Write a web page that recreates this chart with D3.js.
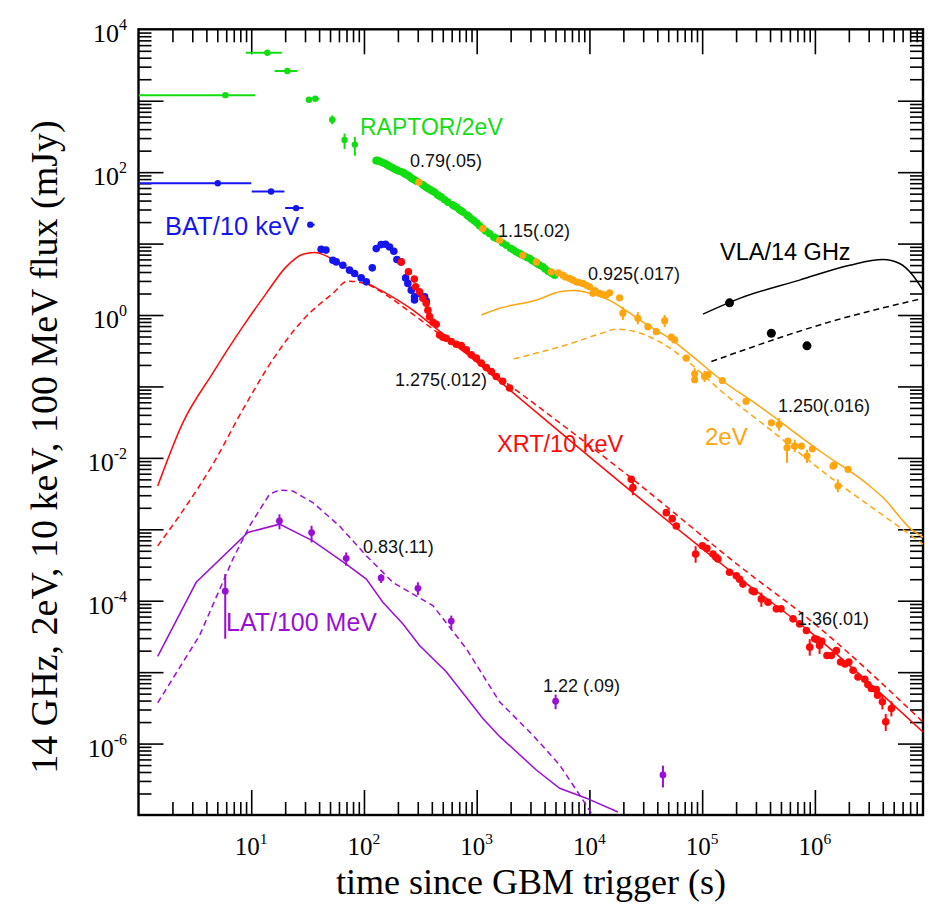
<!DOCTYPE html>
<html>
<head>
<meta charset="utf-8">
<script src="https://cdn.jsdelivr.net/npm/d3@7"></script>
<style>
  body { margin: 0; background: #fff; }
</style>
</head>
<body>
<script>
// ---- data: [time (s), flux (mJy), ...] ----

// RAPTOR early points with horizontal error bars: [t, v, tlo, thi, vlo, vhi]
const raptorEarly = [
  [5.9, 1197, 1, 10.85, null, null],
  [13.9, 4700, 8.95, 18.7, null, null],
  [20.9, 2612, 16.1, 25.6, null, null],
  [32.5, 1030, 30.5, 34.5, null, null],
  [37, 1064, 35, 40, null, null],
  [52.3, 542, 49, 56, 470, 620],
  [67.3, 282, 66, 68.5, 211, 349],
  [83, 243, 82, 84, 170, 314]
];
// RAPTOR dense light curve
const raptor = [
  [128, 145], [131, 146], [133, 145], [137, 142], [140, 140], [146, 136], [152, 133],
  [156, 130], [160, 127], [164, 124], [168, 121], [175, 117], [181, 114], [188, 110],
  [194, 108], [200, 105], [210, 102], [221, 99.7], [228, 96], [235, 93], [245, 90],
  [254, 86.8], [262, 83], [270, 80], [280, 78], [290, 75], [330, 67], [343, 64],
  [357, 61.5], [370, 59], [385, 57], [400, 55], [423, 52.5], [450, 48], [470, 46],
  [485, 44.7], [520, 41], [556, 38], [610, 35], [630, 33.5], [659, 32.4], [700, 30],
  [725, 28.8], [755, 27.6], [820, 25], [850, 24], [896, 22.3], [950, 20.8], [1005, 19.4],
  [1060, 17.8], [1130, 16.4], [1200, 15], [1300, 13.8], [1420, 12.3], [1500, 11.8],
  [1700, 10.2], [1832, 9.47], [2000, 8.6], [2120, 8.1], [2245, 7.64], [2380, 7.3],
  [2500, 7], [2650, 6.7], [2800, 6.4], [2946, 6.18], [3100, 5.8], [3300, 5.5],
  [3450, 5.2], [3600, 5.0], [3866, 4.72], [4050, 4.4], [4300, 4.1], [4600, 3.85], [4911, 3.61]
];
// optical 2eV points: [t, v, vlo, vhi]
const optical = [
  [307, 72.3], [1135, 16.2], [1596, 11.1], [2570, 6.87], [3381, 5.54], [4590, 4.02],
  [5300, 3.9], [5820, 3.61], [6100, 3.4], [6670, 3.25], [7100, 3.1], [7650, 2.91],
  [8100, 2.85], [8750, 2.77], [9400, 2.6], [10040, 2.48], [10740, 2.01], [11200, 2.2],
  [12300, 2.01], [13000, 1.95], [14100, 1.9], [15100, 2.05], [18500, 1.74],
  [19800, 1.06, 0.85, 1.3], [26900, 0.9, 0.74, 1.1], [33000, 0.687], [39200, 0.585],
  [46500, 0.832, 0.68, 1.0], [53300, 0.489], [57000, 0.448], [72400, 0.249],
  [85800, 0.15, 0.125, 0.18], [85800, 0.124], [105000, 0.138, 0.115, 0.165],
  [112600, 0.146], [151000, 0.121], [245000, 0.0618], [411000, 0.0309],
  [481000, 0.0292, 0.024, 0.036], [566000, 0.0138, 0.0085, 0.0175], [577000, 0.0171],
  [662000, 0.0146, 0.012, 0.018], [759000, 0.0146], [851000, 0.0106, 0.0085, 0.013],
  [950000, 0.0134], [1.45e6, 7.66e-3], [1.48e6, 7.9e-3],
  [1.6e6, 4.03e-3, 3.3e-3, 5e-3], [1.97e6, 6.89e-3]
];
// BAT early points with horizontal error bars: [t, v, tlo, thi]
const batEarly = [
  [5.05, 70, 1, 10], [15, 53.6, 10.1, 19.7], [25, 31.4, 20, 29], [33.4, 18.4, 31.8, 36.5]
];
const bat = [
  [41.7, 8.3], [46, 8.1], [53, 5.85], [56.8, 5.54], [65, 4.98], [74.5, 4.25], [82.6, 3.82],
  [94.6, 3.31], [105, 2.91], [118.5, 4.57], [128.5, 8.51], [142, 9.68], [155.5, 9.78],
  [168.7, 8.97], [184, 7.81], [196, 5.98], [214, 5.54], [234, 3.31], [245, 2.77],
  [263, 2.23], [281, 1.8], [281, 1.62], [311, 2.01], [345, 1.8], [357, 1.57]
];
// XRT points: [t, v, vlo, vhi]
const xrt = [
  [214, 5.54], [248, 4.02], [280, 3.18], [287, 2.48], [311, 2.11], [333, 1.71], [357, 1.46],
  [369, 1.17], [382, 0.948], [409, 0.791], [438, 0.742], [469, 0.526], [502, 0.489],
  [537, 0.473], [595, 0.425], [659, 0.39], [730, 0.373], [809, 0.325], [896, 0.277],
  [993, 0.249], [1099, 0.212], [1217, 0.184], [1349, 0.162], [1493, 0.138], [1700, 0.118],
  [1960, 0.095],
  [23500, 5.0e-3], [24300, 3.83e-3, 3.0e-3, 4.8e-3], [48100, 1.71e-3], [54300, 1.41e-3],
  [59000, 1.11e-3], [87500, 4.5e-4, 3.4e-4, 5.8e-4], [100400, 5.86e-4], [110000, 5.4e-4],
  [124800, 4.5e-4], [132000, 4.1e-4], [138000, 3.83e-4], [175000, 2.5e-4], [201000, 2.24e-4],
  [215000, 2.0e-4], [230000, 1.71e-4], [278000, 1.38e-4], [290000, 1.34e-4],
  [335000, 1.06e-4, 8.2e-5, 1.3e-4], [384000, 9.5e-5], [455000, 7.69e-5], [500000, 7.7e-5],
  [640000, 5.57e-5], [733000, 4.74e-5], [841000, 3.83e-5], [900000, 2.24e-5, 1.7e-5, 2.9e-5],
  [996000, 2.93e-5], [1.05e6, 2.85e-5], [1.1e6, 2.37e-5, 1.8e-5, 3.0e-5], [1.15e6, 2.7e-5],
  [1.28e6, 1.71e-5], [1.4e6, 1.71e-5], [1.55e6, 2.01e-5], [1.69e6, 1.39e-5], [1.85e6, 1.3e-5],
  [2.0e6, 1.39e-5], [2.18e6, 1.06e-5], [2.41e6, 8.56e-6], [2.77e6, 7.94e-6], [2.95e6, 6.7e-6],
  [3.17e6, 5.89e-6], [3.5e6, 5.7e-6], [3.6e6, 4.75e-6], [3.97e6, 3.84e-6, 3.0e-6, 4.8e-6],
  [4.25e6, 2.02e-6, 1.5e-6, 2.6e-6], [4.77e6, 3.1e-6, 2.4e-6, 3.9e-6]
];
// LAT points: [t, v, vlo, vhi]
const lat = [
  [5.88, 1.36e-4, 2.93e-5, 2.37e-4], [17.8, 1.31e-3, 1.0e-3, 1.62e-3],
  [34.3, 9.0e-4, 6.55e-4, 1.12e-3], [69.6, 3.92e-4, 3.09e-4, 4.74e-4],
  [142, 2.08e-4, 1.77e-4, 2.36e-4], [301, 1.49e-4, 1.2e-4, 1.81e-4],
  [595, 5.18e-5, 3.95e-5, 6.19e-5], [5012, 3.92e-6, 3.03e-6, 4.85e-6],
  [44900, 3.64e-7, 2.43e-7, 4.91e-7]
];
// VLA 14 GHz points
const vla = [[175000, 1.48], [411000, 0.555], [851000, 0.37]];

// model curves [t, v]
const xrtModel = [
  [1.48, 4.03e-3], [2.47, 0.0309], [4.56, 0.154], [8.42, 0.687], [13.6, 2.01], [20.4, 4.72],
  [28.7, 7.1], [36.5, 7.5], [60.7, 5.26], [108, 2.77], [158, 2.01], [272, 1.17], [453, 0.618],
  [1596, 0.1175], [24300, 3.26e-3], [230000, 1.9e-4], [900000, 3.7e-5], [9.1e6, 1.45e-6]
];
const xrtModelDash = [
  [1.48, 5.86e-4], [2.47, 1.81e-3], [4.56, 8.09e-3], [8.42, 0.0473], [15.5, 0.236],
  [28.7, 0.851], [53, 2.01], [71.9, 2.98], [101, 2.77], [158, 1.9], [254, 1.11], [438, 0.585],
  [1596, 0.132], [24300, 5.0e-3], [230000, 2.8e-4], [900000, 5.4e-5], [9.1e6, 2.0e-6]
];
const latModel = [
  [1.48, 1.66e-5], [3.25, 1.81e-4], [9.33, 9.02e-4], [17.8, 1.18e-3], [35.2, 6.89e-4],
  [69.6, 3.26e-4], [105, 2.01e-4], [147, 9.52e-5], [221, 4.75e-5], [311, 2.36e-5],
  [537, 1.01e-5], [1135, 2.25e-6], [1596, 1.26e-6], [3381, 4.27e-7], [5445, 2.37e-7],
  [9380, 1.72e-7], [17900, 1.1e-7]
];
const latModelDash = [
  [1.48, 3.72e-6], [3.48, 3.26e-5], [6.87, 3.83e-4], [9.66, 1.11e-3], [14.5, 3.09e-3],
  [17.8, 3.55e-3], [23.4, 3.43e-3], [35.2, 2.37e-3], [60.7, 1.11e-3], [105, 4.26e-4],
  [180, 1.81e-4], [409, 8.54e-5], [809, 2.13e-5], [1596, 3.84e-6], [3154, 1.31e-6],
  [5445, 5.01e-7], [8185, 1.91e-7], [10400, 1.06e-7]
];
const optModel = [
  [1099, 1.0], [1596, 1.24], [3381, 1.62], [5445, 2.11], [7390, 2.21], [10740, 1.95],
  [15100, 1.6], [21200, 1.15], [32000, 0.74], [51400, 0.47], [82800, 0.262],
  [142800, 0.128], [302700, 0.0565], [1.18e6, 0.0116], [2.86e6, 4.4e-3], [4.02e6, 2.78e-3],
  [7.18e6, 1.0e-3], [9.1e6, 7.76e-4]
];
const optModelDash = [
  [2125, 0.243], [6240, 0.382], [12300, 0.543], [17300, 0.632], [27900, 0.561],
  [42000, 0.42], [81100, 0.201], [142800, 0.09], [371000, 0.0274], [1.45e6, 5.0e-3],
  [5.65e6, 1.07e-3], [9.1e6, 6.19e-4]
];
const vlaModel = [
  [101600, 1.03], [215000, 1.71], [732000, 3.08], [2.04e6, 4.98], [4.02e6, 5.98],
  [5.65e6, 5.26], [7.38e6, 3.61], [9.1e6, 2.23]
];
const vlaModelDash = [[120700, 0.223], [1.45e6, 0.825], [9.1e6, 1.71]];

// axes
const xDecades = [0, 1, 2, 3, 4, 5, 6];
const yDecades = [-7, -6, -5, -4, -3, -2, -1, 0, 1, 2, 3, 4];
const xLabelExp = [1, 2, 3, 4, 5, 6];
const yLabelExp = [4, 2, 0, -2, -4, -6];

const W = 943, H = 912;
const pLeft = 138.5, pRight = 923, pTop = 29.3, pBottom = 815;

const x = d3.scaleLog().domain([1, 9.1e6]).range([pLeft, pRight]);
const y = d3.scaleLog().domain([1e-7, 1e4]).range([pBottom, pTop]);

const green = "#11dd11", blue = "#1515f0", red = "#ff0a0a",
      orange = "#ffa510", purple = "#9a0fd6", black = "#000";

const svg = d3.select("body").append("svg")
  .attr("width", W).attr("height", H)
  .style("font-family", "'Liberation Sans', Arial, sans-serif");

svg.append("rect").attr("width", W).attr("height", H).attr("fill", "#fff");

svg.append("clipPath").attr("id", "plot")
  .append("rect").attr("x", pLeft).attr("y", pTop)
  .attr("width", pRight - pLeft).attr("height", pBottom - pTop);

// tick values
const minorOf = (decs, dom) => {
  const out = [];
  decs.forEach(d => { for (let k = 2; k <= 9; k++) { const v = k * Math.pow(10, d); if (v > dom[0] && v < dom[1]) out.push(v); } });
  return out;
};
const xMajor = xDecades.map(d => Math.pow(10, d)).filter(v => v > 1);
const xMinor = minorOf(xDecades, x.domain());
const yMajor = yDecades.map(d => Math.pow(10, d)).filter(v => v > 1e-7 && v < 1e4);
const yMinor = minorOf(yDecades, y.domain());

function tickAxis(axis, tr) {
  const g = svg.append("g").attr("transform", tr).call(axis);
  g.select(".domain").remove();
  g.selectAll("line").attr("stroke", "#000").attr("stroke-width", 1.6);
  g.selectAll("text").remove();
}
tickAxis(d3.axisBottom(x).tickValues(xMajor).tickSize(-25), `translate(0,${pBottom})`);
tickAxis(d3.axisBottom(x).tickValues(xMinor).tickSize(-13), `translate(0,${pBottom})`);
tickAxis(d3.axisTop(x).tickValues(xMajor).tickSize(-25), `translate(0,${pTop})`);
tickAxis(d3.axisTop(x).tickValues(xMinor).tickSize(-13), `translate(0,${pTop})`);
tickAxis(d3.axisLeft(y).tickValues(yMajor).tickSize(-25), `translate(${pLeft},0)`);
tickAxis(d3.axisLeft(y).tickValues(yMinor).tickSize(-13), `translate(${pLeft},0)`);
tickAxis(d3.axisRight(y).tickValues(yMajor).tickSize(-25), `translate(${pRight},0)`);
tickAxis(d3.axisRight(y).tickValues(yMinor).tickSize(-13), `translate(${pRight},0)`);

svg.append("rect").attr("x", pLeft).attr("y", pTop)
  .attr("width", pRight - pLeft).attr("height", pBottom - pTop)
  .attr("fill", "none").attr("stroke", "#000").attr("stroke-width", 2.4);

// tick labels
const serif = "'Liberation Serif', 'Times New Roman', serif";
xLabelExp.forEach(e => {
  const t = svg.append("text").attr("x", x(Math.pow(10, e))).attr("y", 855)
    .attr("text-anchor", "middle").style("font-family", serif).style("font-size", "25px");
  t.append("tspan").text("10");
  t.append("tspan").attr("dy", -11).style("font-size", "15.5px").text(e);
});
yLabelExp.forEach(e => {
  const t = svg.append("text").attr("x", 127).attr("y", y(Math.pow(10, e)) + 13)
    .attr("text-anchor", "end").style("font-family", serif).style("font-size", "26px");
  t.append("tspan").text("10");
  t.append("tspan").attr("dy", -12).style("font-size", "16px").text(e);
});

// axis titles
svg.append("text").attr("x", 531).attr("y", 894).attr("text-anchor", "middle")
  .style("font-family", serif).style("font-size", "36px")
  .text("time since GBM trigger (s)");
svg.append("text").attr("transform", "translate(57,447) rotate(-90)").attr("text-anchor", "middle")
  .style("font-family", serif).style("font-size", "38px")
  .text("14 GHz, 2eV, 10 keV, 100 MeV flux (mJy)");

// model curves
const plot = svg.append("g").attr("clip-path", "url(#plot)");
const line = d3.line().x(d => x(d[0])).y(d => y(d[1]));
const smooth = d3.line().x(d => x(d[0])).y(d => y(d[1])).curve(d3.curveMonotoneX);
function curve(data, color, dashed, gen) {
  plot.append("path").datum(data).attr("d", gen || line)
    .attr("fill", "none").attr("stroke", color).attr("stroke-width", 1.5)
    .attr("stroke-dasharray", dashed ? "6,4" : null);
}
curve(xrtModel, red, false, smooth);
curve(xrtModelDash, red, true, smooth);
curve(latModel, purple, false);
curve(latModelDash, purple, true);
curve(optModel, orange, false, smooth);
curve(optModelDash, orange, true, smooth);
curve(vlaModel, black, false, smooth);
curve(vlaModelDash, black, true, smooth);

// points with error bars
function points(data, color, r, opts = {}) {
  const g = plot.append("g");
  data.forEach(d => {
    if (opts.xerr && d[2] != null) {
      g.append("line").attr("x1", x(d[2])).attr("x2", x(d[3])).attr("y1", y(d[1])).attr("y2", y(d[1]))
        .attr("stroke", color).attr("stroke-width", 2);
    }
    const lo = opts.xerr ? d[4] : d[2], hi = opts.xerr ? d[5] : d[3];
    if (lo != null && hi != null) {
      g.append("line").attr("x1", x(d[0])).attr("x2", x(d[0])).attr("y1", y(lo)).attr("y2", y(hi))
        .attr("stroke", color).attr("stroke-width", 2);
    }
  });
  g.selectAll("circle").data(data).join("circle")
    .attr("cx", d => x(d[0])).attr("cy", d => y(d[1])).attr("r", r).attr("fill", color);
}
points(raptorEarly, green, 3.2, { xerr: true });
points(raptor, green, 3.8);
points(batEarly, blue, 3.2, { xerr: true });
points(bat, blue, 3.8);
points(xrt, red, 3.8);
points(optical, orange, 3.6);
points(lat, purple, 3.4);
points(vla, black, 4.5);

// series labels
const labels = [
  ["RAPTOR/2eV", 360, 135, green, 23],
  ["BAT/10 keV", 165, 235, blue, 25.5],
  ["XRT/10 keV", 497, 452, red, 23.5],
  ["2eV", 705, 445, orange, 24],
  ["VLA/14 GHz", 720, 260, black, 23.5],
  ["LAT/100 MeV", 226, 631, purple, 25]
];
labels.forEach(l => svg.append("text").attr("x", l[1]).attr("y", l[2])
  .attr("fill", l[3]).style("font-size", l[4] + "px").text(l[0]));

// decay index annotations
const notes = [
  ["0.79(.05)", 410, 167], ["1.15(.02)", 498, 237], ["0.925(.017)", 588, 280],
  ["1.275(.012)", 395, 386], ["1.250(.016)", 778, 412], ["0.83(.11)", 363, 553],
  ["1.22 (.09)", 543, 692], ["1.36(.01)", 797, 625]
];
notes.forEach(n => svg.append("text").attr("x", n[1]).attr("y", n[2])
  .attr("fill", "#111").style("font-size", "18px").text(n[0]));
</script>
</body>
</html>
